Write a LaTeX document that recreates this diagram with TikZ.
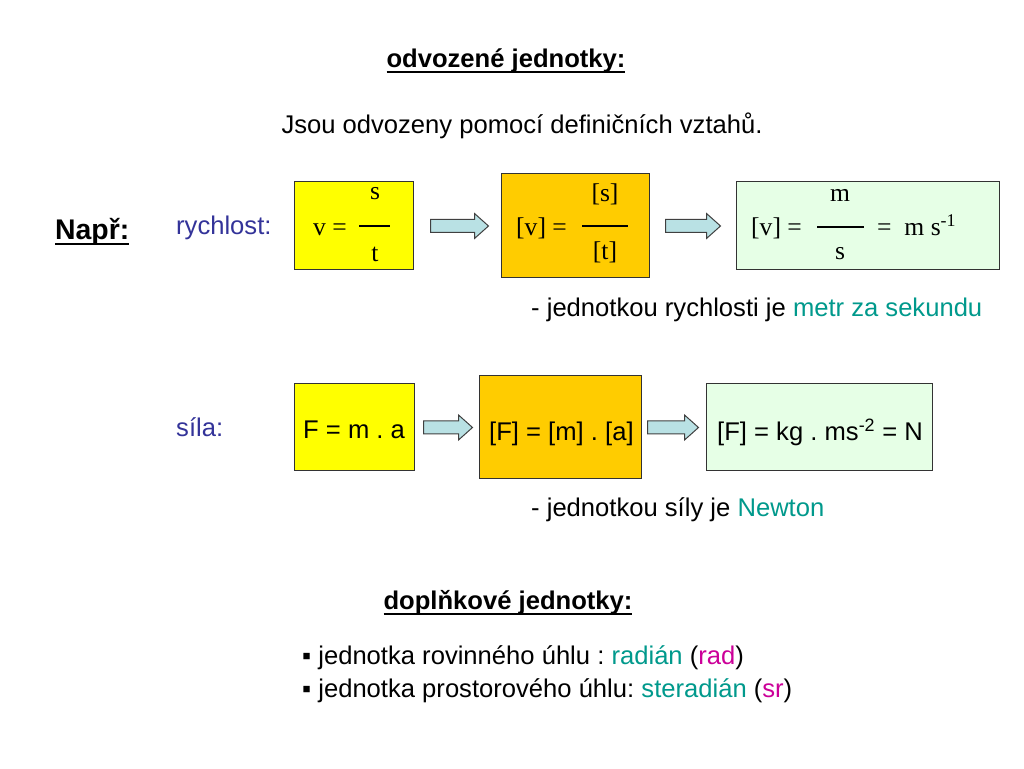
\documentclass[tikz,border=0pt]{standalone}
\usepackage{fontspec}
\setmainfont{Liberation Sans}
\newfontfamily\timesfont{Liberation Serif}
\usetikzlibrary{calc}
\frenchspacing

\definecolor{boxyellow}{RGB}{255,255,0}
\definecolor{boxorange}{RGB}{255,204,0}
\definecolor{boxgreen}{RGB}{230,255,230}
\definecolor{arrowfill}{RGB}{185,225,228}
\definecolor{labelblue}{RGB}{51,51,153}
\definecolor{unitteal}{RGB}{0,153,140}
\definecolor{symbmagenta}{RGB}{204,0,153}

% underline with a thicker rule
\newcommand{\thickul}[1]{\setbox0\hbox{#1}\rlap{\rule[-5pt]{\wd0}{1.8pt}}\box0}

\tikzset{
  box/.style={draw=black!80,line width=1pt,inner sep=0pt},
  blockarrow/.style={draw=black!75,line width=1pt,fill=arrowfill,line join=miter},
  txt/.style={inner sep=0pt,font=\fontsize{25.6}{30}\selectfont},
  ftxt/.style={inner sep=0pt,font=\timesfont\fontsize{25.6}{30}\selectfont},
  fracbar/.style={line width=2pt,black},
}

% block arrow from a start coordinate, #2 = total length
\newcommand{\blockarrow}[2]{%
  \draw[blockarrow] (#1) ++(0,6.5) -- ++(#2-14,0) -- ++(0,6) -- ++(14,-12.5)
    -- ++(-14,-12.5) -- ++(0,6) -- ++(14-#2,0) -- cycle;}

\begin{document}
\begin{tikzpicture}[x=1pt,y=1pt]
\fill[white] (0,0) rectangle (1024,768);
\useasboundingbox (0,0) rectangle (1024,768);

% headings
\node[txt,anchor=base,font=\bfseries\fontsize{25.6}{30}\selectfont] (title) at (506,700) {\thickul{odvozené jednotky:}};
\node[txt,anchor=base] (intro) at (522,634) {Jsou odvozeny pomocí definičních vztahů.};
\node[txt,anchor=base west,font=\bfseries\fontsize{28.4}{32}\selectfont] (napr) at (55,528) {\thickul{Např:}};

% rychlost
\node[txt,anchor=base west,text=labelblue] (rychlost) at (176,533) {rychlost:};
\node[box,fill=boxyellow,minimum width=119,minimum height=88] (v1) at (353.5,542) {};
\node[box,fill=boxorange,minimum width=148,minimum height=104] (v2) at (575,542) {};
\node[box,fill=boxgreen,minimum width=263,minimum height=88] (v3) at (867.5,542) {};

\node[ftxt,anchor=base west] (v1l) at (313,532) {v =};
\node[ftxt,anchor=base] (v1n) at (375,568) {s};
\node[ftxt,anchor=base] (v1d) at (375,506) {t};
\draw[fracbar] (359,542) -- (390,542);

\node[ftxt,anchor=base west] (v2l) at (516,532) {[v] =};
\node[ftxt,anchor=base] (v2n) at (605,566) {[s]};
\node[ftxt,anchor=base] (v2d) at (605,508) {[t]};
\draw[fracbar] (582,542) -- (628,542);

\node[ftxt,anchor=base west] (v3l) at (751,532) {[v] =};
\node[ftxt,anchor=base] (v3n) at (840,566) {m};
\node[ftxt,anchor=base] (v3d) at (840,508) {s};
\draw[fracbar] (817,541) -- (864,541);
\node[ftxt,anchor=base west] (v3r) at (877,532) {=\ \ m s\textsuperscript{-1}};

\coordinate (a1) at ([xshift=17]v1.east);
\coordinate (a2) at ([xshift=16]v2.east);
\blockarrow{a1}{58}
\blockarrow{a2}{55}

\node[txt,anchor=base west] (rnote) at (531,451) {- jednotkou rychlosti je \textcolor{unitteal}{metr za sekundu}};

% sila
\node[txt,anchor=base west,text=labelblue] (sila) at (176,331) {síla:};
\node[box,fill=boxyellow,minimum width=120,minimum height=87] (f1) at (354,340.5) {};
\node[box,fill=boxorange,minimum width=162,minimum height=103] (f2) at (560,340.5) {};
\node[box,fill=boxgreen,minimum width=226,minimum height=87] (f3) at (819,340.5) {};
\node[txt,anchor=base west] (f1t) at (303,329) {F = m . a};
\node[txt,anchor=base west] (f2t) at (489,327) {[F] = [m] . [a]};
\node[txt,anchor=base west] (f3t) at (717,327) {[F] = kg . ms\textsuperscript{-2} = N};

\coordinate (b1) at ([xshift=9]f1.east);
\coordinate (b2) at ([xshift=6]f2.east);
\blockarrow{b1}{49}
\blockarrow{b2}{51}

\node[txt,anchor=base west] (snote) at (531,251) {- jednotkou síly je \textcolor{unitteal}{Newton}};

% doplnkove jednotky
\node[txt,anchor=base,font=\bfseries\fontsize{25.6}{30}\selectfont] (dopl) at (508,158) {\thickul{doplňkové jednotky:}};
\node[txt,anchor=base west] (item1) at (302,104) {▪ jednotka rovinného úhlu : \textcolor{unitteal}{radián} (\textcolor{symbmagenta}{rad})};
\node[txt,anchor=base west] (item2) at (302,71) {▪ jednotka prostorového úhlu: \textcolor{unitteal}{steradián} (\textcolor{symbmagenta}{sr})};
\end{tikzpicture}
\end{document}
